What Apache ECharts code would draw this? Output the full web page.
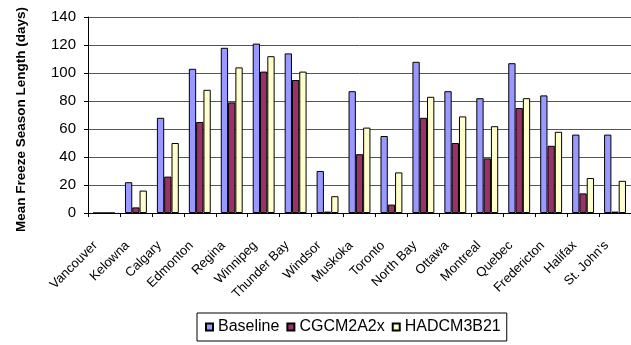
<!DOCTYPE html>
<html>
<head>
<meta charset="utf-8">
<script src="https://cdn.jsdelivr.net/npm/echarts@6/dist/echarts.min.js"></script>
<style>
html,body{margin:0;padding:0;background:#fff;}
#chart{width:631px;height:345px;}
</style>
</head>
<body>
<div id="chart"></div>
<script>
var categories = ["Vancouver","Kelowna","Calgary","Edmonton","Regina","Winnipeg","Thunder Bay","Windsor","Muskoka","Toronto","North Bay","Ottawa","Montreal","Quebec","Fredericton","Halifax","St. John's"];
var baseline  = [0, 22, 68, 103, 118, 121, 114, 30, 87, 55, 108, 87, 82, 107, 84, 56, 56];
var cgcm2a2x  = [0, 4, 26, 65, 79, 101, 95, 1, 42, 6, 68, 50, 39, 75, 48, 14, 1];
var hadcm3b21 = [0, 16, 50, 88, 104, 112, 101, 12, 61, 29, 83, 69, 62, 82, 58, 25, 23];
var seriesNames = ["Baseline","CGCM2A2x","HADCM3B21"];
var yTitle = "Mean Freeze Season Length (days)";

var FONT = "'Liberation Sans', Arial, sans-serif";
var colors = ["#9999FF","#993366","#FFFFCC"];
var dataSets = [baseline, cgcm2a2x, hadcm3b21];

var chart = echarts.init(document.getElementById('chart'), null, {renderer:'canvas'});
chart.setOption({
  animation:false,
  backgroundColor:'#ffffff',
  textStyle:{fontFamily:FONT,color:'#000'},
  grid:{left:88,right:-1,top:17,bottom:132,containLabel:false},
  legend:{
    left:197, top:313,
    orient:'horizontal',
    padding:[6,6,6,8],
    borderColor:'#000', borderWidth:1,
    itemWidth:7, itemHeight:7, itemGap:7,
    icon:'rect',
    textStyle:{fontFamily:FONT,fontSize:16,color:'#000'},
    data:seriesNames
  },
  graphic:[{
    type:'text',
    x:21.5, y:119.5,
    rotation:Math.PI/2,
    style:{text:yTitle,fontFamily:FONT,fontSize:13.5,fontWeight:'bold',fill:'#000',align:'center',verticalAlign:'middle'}
  }],
  xAxis:{
    type:'category',
    data:categories,
    boundaryGap:true,
    axisLine:{lineStyle:{color:'#000',width:1}},
    axisTick:{show:true,length:4,lineStyle:{color:'#000'}},
    axisLabel:{rotate:45,margin:22,padding:[0,12,0,0],fontSize:13,fontFamily:FONT,color:'#000',interval:0},
    splitLine:{show:false}
  },
  yAxis:{
    type:'value',
    min:0,max:140,interval:20,
    axisLine:{show:true,lineStyle:{color:'#000',width:1}},
    axisTick:{show:true,length:4,lineStyle:{color:'#000'}},
    axisLabel:{fontSize:15,fontFamily:FONT,color:'#000',margin:12},
    splitLine:{show:true,lineStyle:{color:'#555',width:1}}
  },
  series:seriesNames.map(function(n,i){
    return {
      name:n,
      type:'bar',
      data:dataSets[i],
      barWidth:7.3,
      barGap:'0%',
      itemStyle:{color:colors[i],borderColor:'#000',borderWidth:1}
    };
  })
});
</script>
</body>
</html>
